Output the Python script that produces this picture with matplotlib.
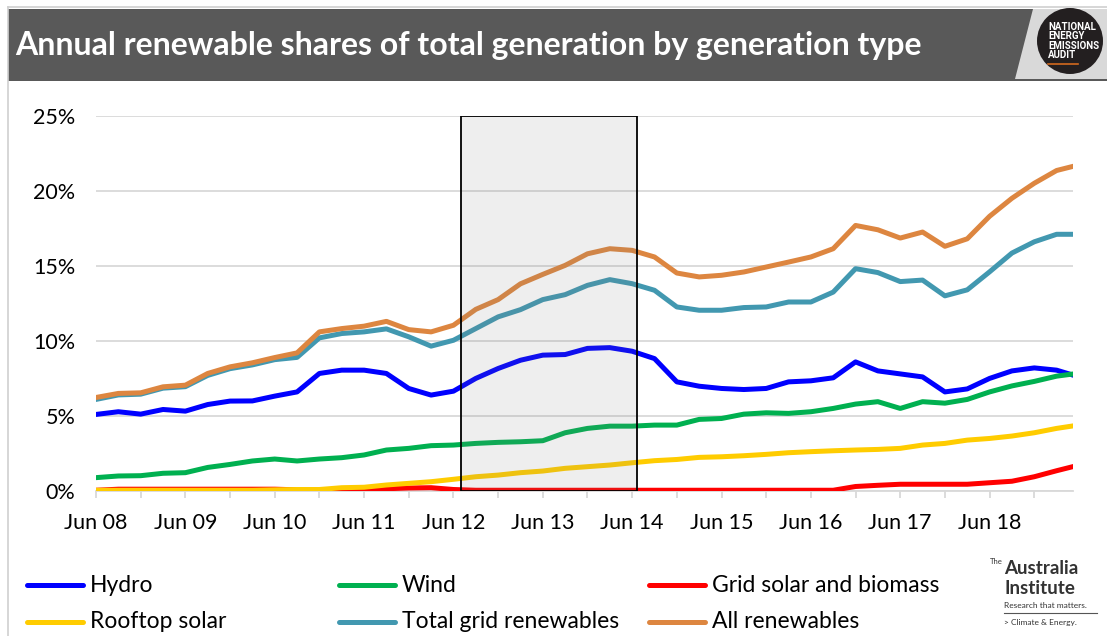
import numpy as np
import matplotlib
matplotlib.use('Agg')
import matplotlib.pyplot as plt
from matplotlib.patches import Rectangle, Polygon, Ellipse
from matplotlib.lines import Line2D

plt.rcParams['font.family'] = ['Lato', 'DejaVu Sans']

# months since Jun 2008, sampled quarterly
months = list(range(0, 130, 3)) + [131]

hydro = [5.10, 5.28, 5.12, 5.43, 5.32, 5.76, 5.99, 6.00, 6.32, 6.60,
         7.83, 8.05, 8.05, 7.83, 6.83, 6.39, 6.65, 7.50, 8.16, 8.71,
         9.05, 9.09, 9.50, 9.55, 9.31, 8.82, 7.27, 6.98, 6.83, 6.76,
         6.83, 7.27, 7.34, 7.54, 8.60, 8.00, 7.80, 7.60, 6.60, 6.80,
         7.50, 8.00, 8.20, 8.05, 7.75]
wind = [0.89, 1.00, 1.02, 1.18, 1.22, 1.57, 1.77, 2.00, 2.13, 2.00,
        2.13, 2.22, 2.40, 2.73, 2.84, 3.02, 3.06, 3.17, 3.24, 3.28,
        3.35, 3.88, 4.17, 4.32, 4.32, 4.39, 4.39, 4.77, 4.83, 5.12,
        5.21, 5.17, 5.28, 5.50, 5.79, 5.95, 5.50, 5.95, 5.85, 6.10,
        6.60, 7.00, 7.30, 7.65, 7.78]
grid_solar = [0.05, 0.12, 0.12, 0.12, 0.12, 0.12, 0.12, 0.12, 0.12, 0.08,
              0.05, 0.10, 0.12, 0.15, 0.20, 0.22, 0.10, 0.05, 0.05, 0.05,
              0.05, 0.05, 0.05, 0.05, 0.05, 0.05, 0.05, 0.05, 0.05, 0.05,
              0.05, 0.05, 0.05, 0.05, 0.30, 0.38, 0.45, 0.45, 0.45, 0.45,
              0.55, 0.65, 0.95, 1.35, 1.60]
rooftop = [0.05, 0.05, 0.05, 0.05, 0.05, 0.05, 0.05, 0.05, 0.08, 0.10,
           0.10, 0.22, 0.25, 0.40, 0.51, 0.62, 0.78, 0.95, 1.06, 1.22,
           1.33, 1.51, 1.62, 1.73, 1.88, 2.02, 2.10, 2.24, 2.28, 2.35,
           2.44, 2.55, 2.62, 2.68, 2.73, 2.77, 2.84, 3.06, 3.17, 3.39,
           3.50, 3.66, 3.88, 4.17, 4.32]
total_grid = [6.10, 6.40, 6.45, 6.85, 6.95, 7.70, 8.15, 8.40, 8.75, 8.90,
              10.20, 10.49, 10.60, 10.80, 10.27, 9.65, 10.04, 10.82, 11.60, 12.08,
              12.75, 13.08, 13.70, 14.08, 13.81, 13.37, 12.26, 12.04, 12.04, 12.22,
              12.26, 12.59, 12.59, 13.25, 14.81, 14.55, 13.95, 14.05, 13.00, 13.40,
              14.60, 15.85, 16.60, 17.10, 17.10]
all_renew = [6.23, 6.50, 6.54, 6.94, 7.05, 7.83, 8.27, 8.54, 8.89, 9.20,
             10.60, 10.82, 10.98, 11.30, 10.75, 10.60, 11.04, 12.10, 12.75, 13.80,
             14.43, 15.03, 15.80, 16.14, 16.03, 15.59, 14.52, 14.26, 14.37, 14.59,
             14.92, 15.25, 15.59, 16.14, 17.69, 17.40, 16.85, 17.25, 16.30, 16.80,
             18.30, 19.50, 20.50, 21.35, 21.60]

tick_months = list(range(0, 121, 12))
tick_labels = ['Jun 08', 'Jun 09', 'Jun 10', 'Jun 11', 'Jun 12', 'Jun 13',
               'Jun 14', 'Jun 15', 'Jun 16', 'Jun 17', 'Jun 18']
yticks = [0, 5, 10, 15, 20, 25]

# carbon price period (shaded box)
box_start, box_end = 49, 72.6

W, H = 1107, 636
fig = plt.figure(figsize=(W / 100, H / 100), dpi=100)


def fx(x):
    return x / W


def fy(y):
    return 1 - y / H


# page frame
fig.add_artist(Line2D([fx(7.5), fx(7.5)], [fy(7), 0], color='#cfcfcf', lw=1.2))
fig.add_artist(Line2D([fx(7.5), 1], [fy(7), fy(7)], color='#cfcfcf', lw=1.2))

# title bar
fig.add_artist(Rectangle((fx(8), fy(81)), 1 - fx(8), (81 - 9) / H,
                         transform=fig.transFigure, color='#595959', lw=0))
fig.add_artist(Polygon([(fx(1033), fy(9)), (1, fy(9)), (1, fy(79)), (fx(1015), fy(79))],
                       closed=True, transform=fig.transFigure, color='#d9d9d9', lw=0))
fig.text(fx(15), fy(45), 'Annual renewable shares of total generation by generation type',
         color='white', fontsize=23, fontweight='bold', va='center', ha='left')

# NEEA badge
fig.add_artist(Ellipse((fx(1070), fy(41)), 66 / W, 66 / H, transform=fig.transFigure,
                       color='#231f20', lw=0))
fig.text(fx(1048), fy(41), 'NATIONAL\nENERGY\nEMISSIONS\nAUDIT', color='white',
         fontsize=7, fontweight='bold', va='center', ha='left', linespacing=0.95,
         family=['Roboto', 'DejaVu Sans'])
fig.add_artist(Line2D([fx(1048), fx(1078)], [fy(64), fy(64)], color='#d2691e', lw=1.2))

ax = fig.add_axes([fx(96), fy(491), fx(1073) - fx(96), (491 - 115.7) / H])

ax.plot(months, grid_solar, color='#ff0000', lw=3.6, zorder=3)
ax.plot(months, rooftop, color='#ffcc00', lw=3.6, zorder=3)
ax.plot(months, total_grid, color='#4298b0', lw=3.6, zorder=3)
ax.plot(months, all_renew, color='#dd8640', lw=3.6, zorder=3)
ax.plot(months, hydro, color='#0000ff', lw=3.6, zorder=3)
ax.plot(months, wind, color='#00b050', lw=3.6, zorder=3)

ax.add_patch(Rectangle((box_start, 0), box_end - box_start, 25, facecolor='#7f7f7f',
                       alpha=0.13, lw=0, zorder=4))
ax.add_patch(Rectangle((box_start, 0), box_end - box_start, 25, facecolor='none',
                       edgecolor='black', lw=1.3, zorder=5))

ax.set_xlim(0, 131.2)
ax.set_ylim(0, 25)
ax.set_yticks(yticks)
ax.set_yticklabels([f'{v}%' for v in yticks])
ax.set_xticks(tick_months)
ax.set_xticklabels(tick_labels)
ax.set_xticks(range(6, 127, 12), minor=True)
ax.grid(axis='y', color='#d9d9d9', lw=1.3, zorder=0)
ax.set_axisbelow(True)
for s in ['top', 'right', 'left']:
    ax.spines[s].set_visible(False)
ax.spines['bottom'].set_color('#d9d9d9')
ax.spines['bottom'].set_linewidth(1.3)
ax.tick_params(axis='y', length=0, pad=15, labelsize=15.5)
ax.tick_params(axis='x', which='both', length=5, color='#d9d9d9', width=1.3,
               labelsize=15.5, pad=11)

# legend
legend_items = [('Hydro', '#0000ff', 0, 0), ('Wind', '#00b050', 1, 0),
                ('Grid solar and biomass', '#ff0000', 2, 0),
                ('Rooftop solar', '#ffcc00', 0, 1), ('Total grid renewables', '#4298b0', 1, 1),
                ('All renewables', '#dd8640', 2, 1)]
col_x = [27, 339, 649]
row_y = [585, 622]
for label, color, c, r in legend_items:
    x0 = col_x[c]
    y0 = row_y[r]
    fig.add_artist(Line2D([fx(x0), fx(x0 + 56)], [fy(y0), fy(y0)], color=color, lw=3.6,
                          solid_capstyle='round'))
    fig.text(fx(x0 + 63), fy(y0), label, fontsize=16.5, va='center', ha='left')

# Australia Institute logo
fig.text(fx(990), fy(562), 'The', fontsize=5.5, color='#333333', va='center')
fig.text(fx(1004), fy(568), 'Australia', fontsize=13.5, color='#333333',
         va='center', fontweight='bold')
fig.text(fx(1004), fy(589), 'Institute', fontsize=13.5, color='#333333',
         va='center', fontweight='bold')
fig.text(fx(1004), fy(605), 'Research that matters.', fontsize=6, color='#333333',
         va='center')
fig.add_artist(Line2D([fx(1004), fx(1097)], [fy(613), fy(613)], color='#555555', lw=0.8))
fig.text(fx(1004), fy(623), '> Climate & Energy.', fontsize=6, color='#333333',
         va='center')

fig.savefig('out.png', dpi=100)
